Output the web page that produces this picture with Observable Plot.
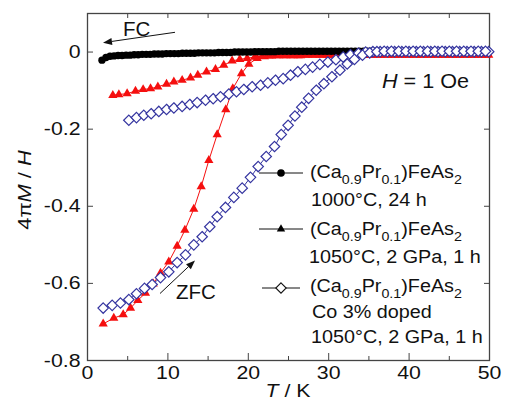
<!DOCTYPE html>
<html><head><meta charset="utf-8">
<script src="https://cdn.jsdelivr.net/npm/d3@7"></script>
<script src="https://cdn.jsdelivr.net/npm/@observablehq/plot@0.6"></script>
<style>
body{margin:0;background:#fff}
svg{font-family:"Liberation Sans",Arial,sans-serif}
</style>
</head><body><div id="chart"></div>
<script>
// ---- data ----
const xMajor = [0, 10, 20, 30, 40, 50];
const xMinor = [5, 15, 25, 35, 45];
const xTop = [5, 10, 15, 20, 25, 30, 35, 40, 45];
const yMajor = [0, -0.2, -0.4, -0.6, -0.8];

// (Ca0.9Pr0.1)FeAs2, 1000°C, 24 h (black circles)
const blackT = [1.8,2.3,2.8,3.3,3.8,4.3,4.8,5.3,5.8,6.3,6.8,7.3,7.8,8.3,8.8,9.3,9.8,10.3,10.8,11.3,11.8,12.3,12.8,13.3,13.8,14.3,14.8,15.3,15.8,16.3,16.8,17.3,17.8,18.3,18.8,19.3,19.8,20.3,20.8,21.3,21.8,22.3,22.8,23.3,23.8,24.3,24.8,25.3,25.8,26.3,26.8,27.3,27.8,28.3,28.8,29.3,29.8,30.3,30.8,31.3,31.8,32.3,32.8,33.3,33.8,34.3,34.8,35.3,35.8,36.3,36.8,37.3,37.8,38.3,38.8,39.3,39.8,40.3,40.8,41.3,41.8,42.3,42.8,43.3,43.8,44.3,44.8,45.3,45.8,46.3,46.8,47.3,47.8,48.3,48.8,49.3,49.8];
const blackM = [-0.021,-0.014,-0.011,-0.010,-0.009,-0.009,-0.008,-0.008,-0.007,-0.007,-0.006,-0.006,-0.006,-0.005,-0.005,-0.005,-0.004,-0.004,-0.004,-0.004,-0.003,-0.003,-0.003,-0.003,-0.002,-0.002,-0.002,-0.002,-0.002,-0.001,-0.001,-0.001,-0.001,0,0,0,0,0,0.001,0.001,0.001,0.001,0.001,0.001,0.002,0.002,0.002,0.002,0.002,0.002,0.002,0.002,0.002,0.002,0.002,0.002,0.002,0.002,0.002,0.002,0.002,0.002,0.002,0.002,0.002,0.002,0.002,0.002,0.002,0.002,0.002,0.002,0.002,0.002,0.002,0.002,0.002,0.002,0.002,0.002,0.002,0.002,0.002,0.002,0.002,0.002,0.002,0.002,0.002,0.002,0.002,0.002,0.002,0.002,0.002,0.002,0.002];

// (Ca0.9Pr0.1)FeAs2, 1050°C, 2 GPa, 1 h (red triangles) ZFC
const redZfcT = [1.95,3.27,4.44,5.35,6.26,7.21,8.17,9.08,10.11,11.15,12.11,13.22,14.14,15.09,16.13,17.2,18.07,19.15,20.07,21.1,22.0,22.9,23.8,24.7,25.6,26.5,27.4,28.3,29.2,30.1,31.0,31.9,32.8,33.7,34.6,35.5,36.4,37.3,38.2,39.1,40.0,40.9,41.8,42.7,43.6,44.5,45.4,46.3,47.2,48.1,49.0,49.9];
const redZfcM = [-0.705,-0.690,-0.681,-0.664,-0.644,-0.625,-0.601,-0.573,-0.544,-0.503,-0.462,-0.407,-0.349,-0.281,-0.214,-0.149,-0.095,-0.056,-0.031,-0.016,-0.012,-0.010,-0.009,-0.009,-0.009,-0.009,-0.008,-0.008,-0.008,-0.008,-0.008,-0.008,-0.008,-0.008,-0.008,-0.008,-0.008,-0.008,-0.008,-0.008,-0.008,-0.008,-0.008,-0.008,-0.008,-0.008,-0.008,-0.008,-0.008,-0.008,-0.008,-0.008];
// FC
const redFcT = [3.15,3.9,4.93,5.97,6.92,7.84,8.75,9.83,10.74,11.77,12.81,13.72,14.8,15.92,16.95,17.99,18.94,19.86,20.8,21.7,22.6,23.5,24.4,25.3,26.2,27.1,28.0,28.9,29.8,30.7,31.6,32.5,33.4,34.3,35.2,36.1,37.0,37.9,38.8,39.7,40.6,41.5,42.4,43.3,44.2,45.1,46.0,46.9,47.8,48.7,49.6];
const redFcM = [-0.112,-0.110,-0.108,-0.101,-0.097,-0.095,-0.090,-0.083,-0.077,-0.073,-0.067,-0.060,-0.051,-0.045,-0.034,-0.023,-0.019,-0.016,-0.013,-0.011,-0.010,-0.009,-0.009,-0.009,-0.009,-0.008,-0.008,-0.008,-0.008,-0.008,-0.008,-0.008,-0.008,-0.008,-0.008,-0.008,-0.008,-0.008,-0.008,-0.008,-0.008,-0.008,-0.008,-0.008,-0.008,-0.008,-0.008,-0.008,-0.008,-0.008,-0.008];

// (Ca0.9Pr0.1)FeAs2 Co 3% doped (blue open diamonds) ZFC
const blueZfcT = [1.95,3.07,4.10,5.14,6.09,7.09,8.04,9.08,10.11,11.15,12.19,13.22,14.26,15.21,16.13,17.16,18.20,19.24,20.27,21.23,22.23,23.26,24.1,24.95,25.8,26.65,27.5,28.45,29.4,30.4,31.4,32.3,33.2,34.2,35.1,36.0,36.9,37.8,38.7,39.6,40.5,41.4,42.3,43.2,44.1,45.0,45.9,46.8,47.7,48.6,49.5];
const blueZfcM = [-0.664,-0.657,-0.651,-0.642,-0.627,-0.613,-0.603,-0.585,-0.570,-0.546,-0.526,-0.500,-0.479,-0.453,-0.427,-0.403,-0.377,-0.353,-0.325,-0.297,-0.271,-0.245,-0.214,-0.190,-0.166,-0.143,-0.120,-0.099,-0.082,-0.064,-0.047,-0.031,-0.019,-0.008,-0.002,0.001,0.002,0.002,0.002,0.002,0.002,0.002,0.002,0.002,0.002,0.002,0.002,0.002,0.002,0.002,0.002];
// FC
const blueFcT = [5.14,6.09,7.0,7.92,8.87,9.83,10.74,11.77,12.72,13.64,14.68,15.63,16.54,17.58,18.53,19.44,20.48,21.52,22.43,23.38,24.34,25.25,26.16,27.1,28.0,28.9,29.9,30.9,31.8,32.7,33.7,34.6,35.5,36.4,37.3,38.2,39.1,40.0,40.9,41.8,42.7,43.6,44.5,45.4,46.3,47.2,48.1,49.0,49.9];
const blueFcM = [-0.177,-0.170,-0.164,-0.160,-0.154,-0.149,-0.145,-0.141,-0.136,-0.131,-0.125,-0.121,-0.116,-0.109,-0.103,-0.097,-0.090,-0.086,-0.080,-0.073,-0.069,-0.060,-0.051,-0.045,-0.039,-0.032,-0.026,-0.020,-0.013,-0.007,-0.003,0.000,0.001,0.001,0.001,0.001,0.001,0.001,0.001,0.001,0.001,0.001,0.001,0.001,0.001,0.001,0.001,0.001,0.001];

const RED = "#f50f0f", BLUE = "#3535a0", AX = "#444";
const rows = (T, M) => T.map((t, i) => ({T: t, M: M[i]}));
const black = rows(blackT, blackM);
const redZ = rows(redZfcT, redZfcM), redF = rows(redFcT, redFcM);
const blueZ = rows(blueZfcT, blueZfcM), blueF = rows(blueFcT, blueFcM);
const fmtY = d => d === 0 ? "0" : d.toFixed(1);
const blank = () => "";

const plot = Plot.plot({
  width: 507, height: 404,
  marginLeft: 87, marginRight: 18, marginTop: 13, marginBottom: 44,
  style: {fontFamily: '"Liberation Sans", Arial, sans-serif', fontSize: "19px", color: "#111", background: "#fff"},
  x: {domain: [0, 50]},
  y: {domain: [-0.8, 0.1]},
  marks: [
    Plot.axisX(xMajor, {anchor: "bottom", tickSize: 0, tickPadding: 5, tickFormat: d => String(d), label: null, fontSize: 19}),
    Plot.axisX(xMajor, {anchor: "bottom", tickSize: -7, tickFormat: blank, label: null, stroke: AX}),
    Plot.axisX(xMinor, {anchor: "bottom", tickSize: -4, tickFormat: blank, label: null, stroke: AX}),
    Plot.axisX(xTop, {anchor: "top", tickSize: -4, tickFormat: blank, label: null, stroke: AX}),
    Plot.axisY(yMajor, {anchor: "left", tickSize: 0, tickPadding: 7, tickFormat: fmtY, label: null, fontSize: 19}),
    Plot.axisY(yMajor, {anchor: "left", tickSize: -6, tickFormat: blank, label: null, stroke: AX}),
    Plot.axisY(yMajor, {anchor: "right", tickSize: -6, tickFormat: blank, label: null, stroke: AX}),
    Plot.frame({stroke: AX, strokeWidth: 1.3}),
    Plot.line(redF, {x: "T", y: "M", stroke: RED, strokeWidth: 1}),
    Plot.dot(redF, {x: "T", y: "M", r: 4.4, fill: RED, symbol: "triangle2"}),
    Plot.line(redZ, {x: "T", y: "M", stroke: RED, strokeWidth: 1}),
    Plot.dot(redZ, {x: "T", y: "M", r: 4.4, fill: RED, symbol: "triangle2"}),
    Plot.dot(black, {x: "T", y: "M", r: 3.7, fill: "#000", symbol: "circle"}),
    Plot.line(blueF, {x: "T", y: "M", stroke: BLUE, strokeWidth: 1}),
    Plot.dot(blueF, {x: "T", y: "M", r: 4.7, fill: "#fff", stroke: BLUE, strokeWidth: 1.2, symbol: "diamond2"}),
    Plot.line(blueZ, {x: "T", y: "M", stroke: BLUE, strokeWidth: 1}),
    Plot.dot(blueZ, {x: "T", y: "M", r: 4.7, fill: "#fff", stroke: BLUE, strokeWidth: 1.2, symbol: "diamond2"})
  ]
});
document.getElementById("chart").appendChild(plot);

// ---- rich-text annotations, axis titles and legend ----
const svg = d3.select(plot);
const g = svg.append("g").attr("fill", "#111");
function rich(x, y, parts, size, opts = {}) {
  const t = g.append("text").attr("x", x).attr("y", y).attr("font-size", size)
    .attr("text-anchor", opts.anchor || "start");
  if (opts.rotate) t.attr("transform", `rotate(-90 ${x} ${y})`);
  for (const [s, style] of parts) {
    const sp = t.append("tspan").text(s);
    if (style === "i") sp.attr("font-style", "italic");
    if (style === "sub") sp.attr("font-size", size * 0.72).attr("dy", size * 0.33);
    if (style === "up") sp.attr("dy", -size * 0.33);
  }
  if (opts.stretch) {
    const w = t.node().getComputedTextLength();
    t.attr("textLength", w * opts.stretch).attr("lengthAdjust", "spacingAndGlyphs");
  }
  return t;
}
const formula = [["(Ca"], ["0.9", "sub"], ["Pr", "up"], ["0.1", "sub"], [")FeAs", "up"], ["2", "sub"]];

// axis titles
rich(288, 397, [["T", "i"], [" / K"]], 19, {anchor: "middle", stretch: 1.12});
rich(31, 190, [["4π"], ["M", "i"], [" / "], ["H", "i"]], 19, {anchor: "middle", rotate: true, stretch: 1.15});

// annotations
rich(123, 36, [["FC"]], 20.5);
rich(176, 299, [["ZFC"]], 20.5);
rich(382, 88, [["H", "i"], [" = 1 Oe"]], 20, {stretch: 1.08});

// arrows
const arrow = (x1, y1, x2, y2) => {
  const a = Math.atan2(y2 - y1, x2 - x1), L = 9, W = 3.5;
  const bx = x2 - L * Math.cos(a), by = y2 - L * Math.sin(a);
  g.append("line").attr("x1", x1).attr("y1", y1).attr("x2", bx).attr("y2", by).attr("stroke", "#111").attr("stroke-width", 1);
  g.append("path").attr("fill", "#111")
    .attr("d", `M${x2},${y2}L${bx - W * Math.sin(a)},${by + W * Math.cos(a)}L${bx + W * Math.sin(a)},${by - W * Math.cos(a)}Z`);
};
arrow(175, 32.3, 103, 42.7);
arrow(160, 293.5, 195, 260.5);

// legend
const LX1 = 259, LX2 = 303, MX = 281;
const legendLine = (y) => g.append("line").attr("x1", LX1).attr("x2", LX2).attr("y1", y).attr("y2", y).attr("stroke", "#111").attr("stroke-width", 1);
legendLine(173);
g.append("path").attr("transform", `translate(${MX},173)`).attr("d", d3.symbol(d3.symbolCircle, Math.PI * 3.8 * 3.8)()).attr("fill", "#000");
legendLine(229);
g.append("path").attr("transform", `translate(${MX},229)`).attr("d", d3.symbol(d3.symbolTriangle2, Math.PI * 4 * 4)()).attr("fill", "#000");
g.append("line").attr("x1", 262).attr("x2", 300).attr("y1", 288).attr("y2", 288).attr("stroke", "#111").attr("stroke-width", 1);
g.append("path").attr("transform", `translate(${MX},288)`).attr("d", d3.symbol(d3.symbolDiamond2, Math.PI * 4.7 * 4.7)()).attr("fill", "#fff").attr("stroke", "#111").attr("stroke-width", 1.1);

const LS = 17.5, ST = 1.13;
rich(310, 178, formula, LS, {stretch: ST});
rich(311, 206, [["1000°C, 24 h"]], LS, {stretch: ST});
rich(310, 235, formula, LS, {stretch: ST});
rich(309, 263, [["1050°C, 2 GPa, 1 h"]], LS, {stretch: ST});
rich(310, 292, formula, LS, {stretch: ST});
rich(312, 318, [["Co 3% doped"]], LS, {stretch: ST});
rich(311, 343, [["1050°C, 2 GPa, 1 h"]], LS, {stretch: ST});

// slight horizontal stretch of tick labels (reference glyphs are wide)
svg.selectAll('g[aria-label="x-axis tick label"] text, g[aria-label="y-axis tick label"] text').each(function(){
  if (!this.textContent) return;
  const w = this.getComputedTextLength();
  d3.select(this).attr("textLength", w * 1.12).attr("lengthAdjust", "spacingAndGlyphs");
});
</script>
</body></html>
